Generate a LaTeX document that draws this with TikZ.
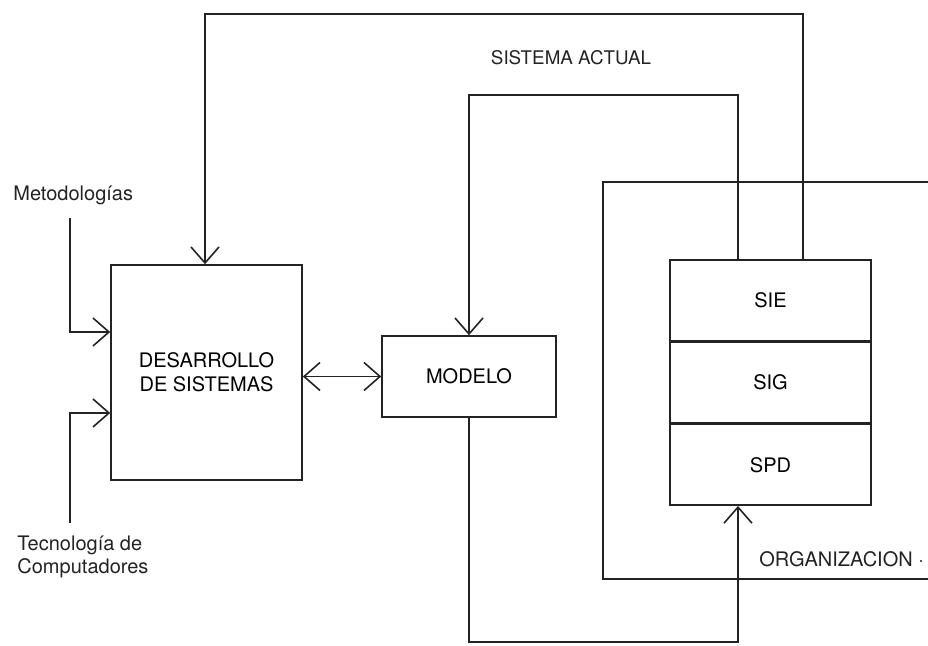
\documentclass[tikz,border=0pt]{standalone}
\usepackage{fontspec}
\setmainfont{TeX Gyre Heros}
\usepackage{tikz}
\usetikzlibrary{arrows.meta,positioning,calc}
\definecolor{Ink}{RGB}{35,35,35}

\tikzset{
  bloque/.style={draw=Ink,line width=0.8pt,inner sep=0pt,font=\fontsize{10}{12}\selectfont,align=center},
  etiqueta/.style={inner sep=0pt,text=Ink,font=\fontsize{10}{11.5}\selectfont},
  linea/.style={draw=Ink,line width=0.8pt}
}

\begin{document}
\begin{tikzpicture}[x=0.5pt,y=-0.5pt,>={Straight Barb[length=8pt,width=14pt]}]
  \useasboundingbox (0,0) rectangle (928,646);

  % bloques
  \node[bloque,minimum width=95.5pt,minimum height=107.5pt] (des) at (206.5,372.5) {DESARROLLO\\DE SISTEMAS};
  \node[bloque,minimum width=87pt,minimum height=40.5pt] (mod) at (469,376.5) {MODELO};
  \node[bloque,minimum width=100.5pt,minimum height=40.33pt] (sie) at (770.5,300.3) {SIE};
  \node[bloque,minimum width=100.5pt,minimum height=40.33pt,below=0pt of sie] (sig) {SIG};
  \node[bloque,minimum width=100.5pt,minimum height=40.33pt,below=0pt of sig] (spd) {SPD};

  % textos
  \node[etiqueta,anchor=west] (met) at (13,195) {Metodologías};
  \node[etiqueta,anchor=west,align=left] (tec) at (17,556.5) {Tecnología de\\Computadores};
  \node[etiqueta,font=\fontsize{9.4}{11}\selectfont] (act) at (571,58) {SISTEMA ACTUAL};
  \node[etiqueta,anchor=west] (org) at (759,559) {ORGANIZACION ·};

  % puntos de quiebre
  \coordinate (s1) at (803,14);
  \coordinate (s2) at (205,14);
  \coordinate (m1) at (738,95);
  \coordinate (m2) at (469,95);
  \coordinate (b1) at (469,642);
  \coordinate (b2) at (738,642);
  \coordinate (metin) at (70,218);
  \coordinate (kmet) at (70,332);
  \coordinate (tecout) at (70,523);
  \coordinate (ktec) at (70,413);
  \coordinate (o1) at (928,182);
  \coordinate (o2) at (603,579);
  \coordinate (o3) at (928,579);

  % organizacion
  \draw[linea] (o1) -| (o2) -- (o3);

  % flechas
  \draw[linea,->] (sie.north -| s1) -- (s1) -- (s2) -- (des.north -| s2);
  \draw[linea,->] (sie.north -| m1) -- (m1) -- (m2) -- (mod.north -| m2);
  \draw[linea,->] (mod.south -| b1) -- (b1) -- (b2) -- (spd.south -| b2);
  \draw[linea,<->] (des.east |- mod.west) -- (mod.west);
  \draw[linea,->] (metin) -- (kmet) -- (kmet -| des.west);
  \draw[linea,->] (tecout) -- (ktec) -- (ktec -| des.west);
\end{tikzpicture}
\end{document}
